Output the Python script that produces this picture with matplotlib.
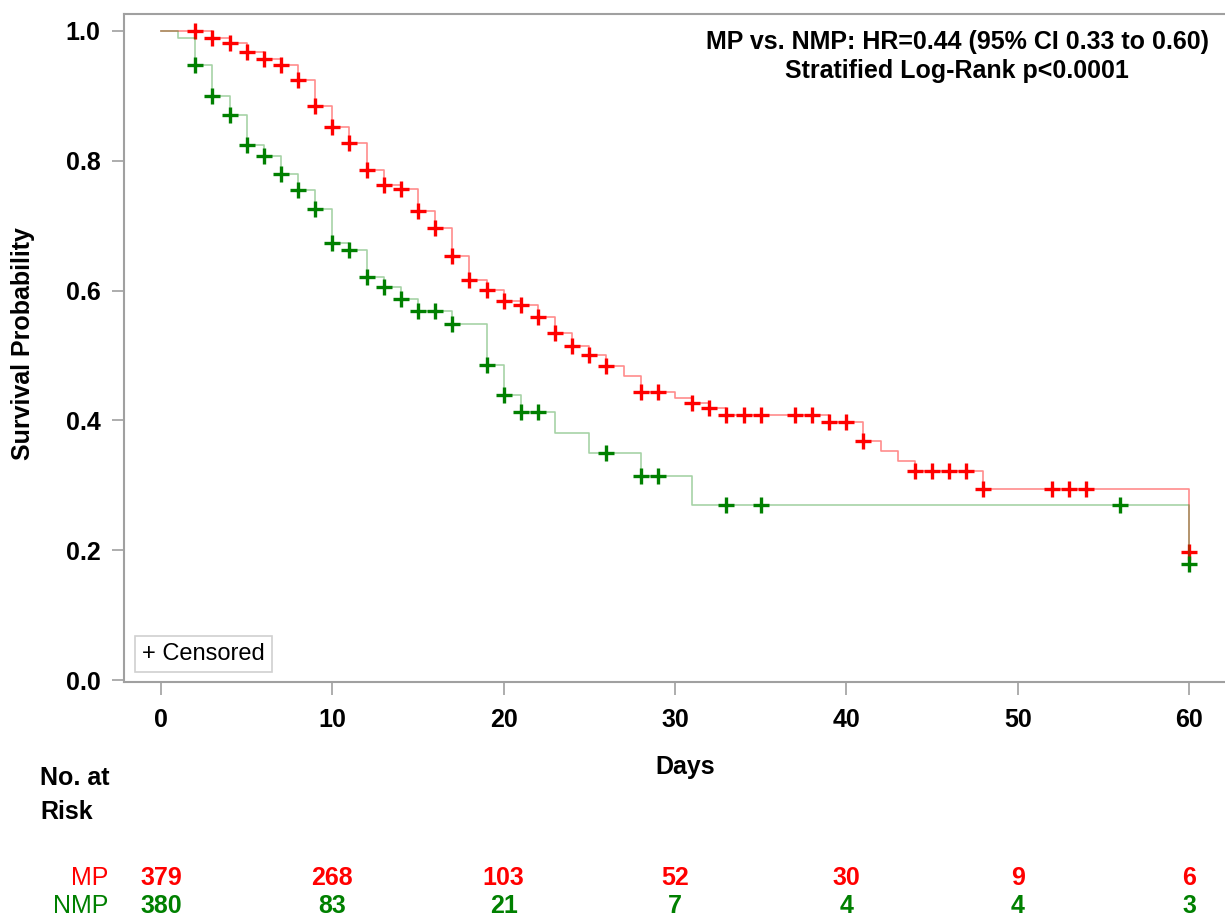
import numpy as np
import matplotlib
matplotlib.use('Agg')
import matplotlib.pyplot as plt

plt.rcParams['font.family'] = ['Liberation Sans', 'DejaVu Sans']

# Kaplan-Meier estimates: day of each step and survival after it
mp_days = [0, 3, 4, 5, 6, 7, 8, 9, 10, 11, 12, 13, 14, 15, 16, 17, 18, 19, 20,
           21, 22, 23, 24, 25, 26, 27, 28, 30, 31, 32, 33, 39, 41, 42, 43, 44, 48, 60]
mp_surv = [1.0, 0.989, 0.981, 0.968, 0.957, 0.948, 0.924, 0.885, 0.852, 0.827,
           0.785, 0.763, 0.757, 0.722, 0.696, 0.653, 0.616, 0.601, 0.584, 0.578,
           0.559, 0.534, 0.514, 0.501, 0.484, 0.468, 0.444, 0.435, 0.427, 0.419,
           0.409, 0.397, 0.368, 0.353, 0.337, 0.322, 0.295, 0.197]
mp_censored = list(range(2, 27)) + [28, 29, 31, 32, 33, 34, 35, 37, 38, 39, 40, 41,
                                    44, 45, 46, 47, 48, 52, 53, 54, 60]

nmp_days = [0, 1, 2, 3, 4, 5, 6, 7, 8, 9, 10, 11, 12, 13, 14, 15, 17, 19, 20, 21,
            23, 25, 28, 31, 60]
nmp_surv = [1.0, 0.989, 0.947, 0.900, 0.870, 0.824, 0.807, 0.779, 0.755, 0.725,
            0.674, 0.662, 0.621, 0.606, 0.587, 0.568, 0.548, 0.485, 0.439, 0.413,
            0.381, 0.349, 0.314, 0.270, 0.178]
nmp_censored = list(range(2, 18)) + [19, 20, 21, 22, 26, 28, 29, 33, 35, 56, 60]

risk_days = [0, 10, 20, 30, 40, 50, 60]
mp_at_risk = [379, 268, 103, 52, 30, 9, 6]
nmp_at_risk = [380, 83, 21, 7, 4, 4, 3]

RED = '#ff0000'
GREEN = '#008000'
GRAY = '#a0a0a0'


def surv_at(days, surv, t):
    i = np.searchsorted(days, t, side='right') - 1
    return np.asarray(surv)[i]


fig = plt.figure(figsize=(12.25, 9.19), dpi=100)
ax = fig.add_axes([124 / 1225, 1 - 682 / 919, 1 - 124 / 1225, 668 / 919])

for days, surv, cens, col, a in [(mp_days, mp_surv, mp_censored, RED, 0.45),
                                 (nmp_days, nmp_surv, nmp_censored, GREEN, 0.35)]:
    ax.step(days, surv, where='post', color=col, lw=1.2, alpha=a)
    ax.plot(cens, surv_at(days, surv, cens), ls='none', marker='+',
            ms=11, mew=2.4, color=col)

ax.set_xlim(-2.16, 62.1)
ax.set_ylim(-0.003, 1.026)
ax.set_xticks(range(0, 61, 10))
ax.set_yticks(np.arange(0, 1.01, 0.2))
ax.set_yticklabels([f'{v:.1f}' for v in np.arange(0, 1.01, 0.2)])

for side in ['top', 'left', 'bottom']:
    ax.spines[side].set_color(GRAY)
    ax.spines[side].set_linewidth(1.5)
ax.spines['right'].set_visible(False)
ax.tick_params(axis='both', colors=GRAY, labelcolor='black', width=1.2,
               labelsize=18)
ax.tick_params(axis='x', length=9, pad=10)
ax.tick_params(axis='y', length=9, pad=8)
for lab in ax.get_xticklabels() + ax.get_yticklabels():
    lab.set_fontweight('bold')

ax.text(0.7566, 0.976,
        'MP vs. NMP: HR=0.44 (95% CI 0.33 to 0.60)\nStratified Log-Rank p<0.0001',
        transform=ax.transAxes, ha='center', va='top', fontsize=18,
        fontweight='bold', linespacing=1.25)

ax.text(0.0163, 0.042, '+ Censored', transform=ax.transAxes, ha='left',
        va='center', fontsize=17,
        bbox=dict(boxstyle='square,pad=0.3', fc='white', ec='#d0d0d0', lw=1.2))

fig.text(23 / 1225, 1 - 344 / 919, 'Survival Probability', rotation=90,
         ha='center', va='center', fontsize=18, fontweight='bold')
fig.text(685 / 1225, 1 - 767 / 919, 'Days', ha='center', va='center',
         fontsize=18, fontweight='bold')
fig.text(40 / 1225, 1 - 778 / 919, 'No. at', ha='left', va='center',
         fontsize=18, fontweight='bold')
fig.text(40 / 1225, 1 - 812 / 919, 'Risk', ha='left', va='center',
         fontsize=18, fontweight='bold')

# number-at-risk table under the x axis
xt = ax.get_xaxis_transform()
for lab, counts, col, ypx in [('MP', mp_at_risk, RED, 878),
                              ('NMP', nmp_at_risk, GREEN, 906)]:
    y = (682 - ypx) / 668
    fig.text(108 / 1225, 1 - ypx / 919, lab, ha='right', va='center',
             fontsize=18, color=col)
    for d, n in zip(risk_days, counts):
        ax.text(d, y, str(n), transform=xt, ha='center', va='center',
                fontsize=18, fontweight='bold', color=col, clip_on=False)

fig.savefig('out.png', dpi=100)
